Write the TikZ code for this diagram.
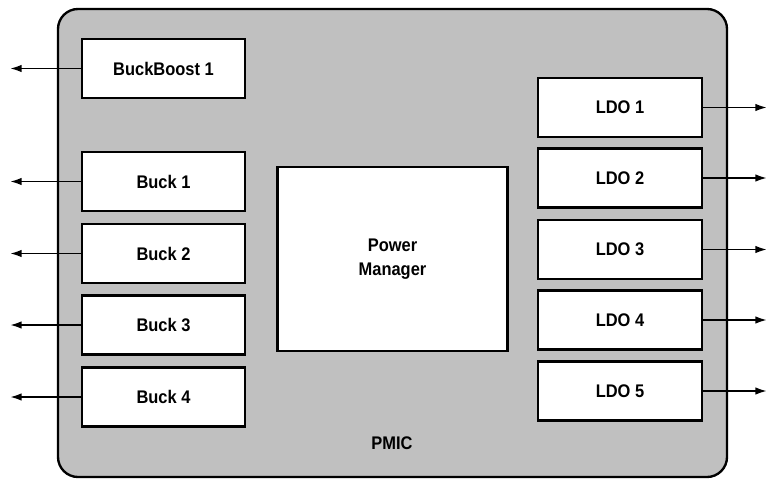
\documentclass[tikz,border=0pt]{standalone}
\usepackage{fontspec}
\setmainfont[FakeStretch=0.9]{Liberation Sans}
\usetikzlibrary{arrows.meta}
\definecolor{pmicgray}{RGB}{192,192,192}
\begin{document}
\begin{tikzpicture}
  [x=0.03cm,y=-0.03cm,
   every node/.style={font=\fontsize{15.6}{20.5}\selectfont\bfseries,align=center},
   blk/.style={draw,line width=1.9pt,fill=white,minimum width=4.9cm,minimum height=1.77cm,inner sep=0pt},
   outarrow/.style={line width=1.6pt,-{Latex[length=10pt,width=6.5pt]}}]
  \useasboundingbox (0,0) rectangle (767,480);
  \draw[line width=2pt,fill=pmicgray,rounded corners=0.6cm] (58,9) rectangle (727,477);
  \node[blk] (bb1) at (163.5,68.5) {BuckBoost 1};
  \node[blk] (buck1) at (163.5,181.5) {Buck 1};
  \node[blk] (buck2) at (163.5,253.5) {Buck 2};
  \node[blk] (buck3) at (163.5,325) {Buck 3};
  \node[blk] (buck4) at (163.5,397) {Buck 4};
  \node[blk,minimum width=6.9cm,minimum height=5.5cm] (pm) at (392.5,259) {Power\\Manager};
  \node[blk] (ldo1) at (620,107.5) {LDO 1};
  \node[blk] (ldo2) at (620,178) {LDO 2};
  \node[blk] (ldo3) at (620,249.5) {LDO 3};
  \node[blk] (ldo4) at (620,320) {LDO 4};
  \node[blk] (ldo5) at (620,391) {LDO 5};
  \node (pmic) at (392,443) {PMIC};
  \coordinate (lend) at (10,0);
  \coordinate (rend) at (767,0);
  \foreach \b in {bb1,buck1,buck2,buck3,buck4}
    \draw[outarrow] (\b.west) -- (\b.west -| lend);
  \foreach \b in {ldo1,ldo2,ldo3,ldo4,ldo5}
    \draw[outarrow] (\b.east) -- (\b.east -| rend);
\end{tikzpicture}
\end{document}
